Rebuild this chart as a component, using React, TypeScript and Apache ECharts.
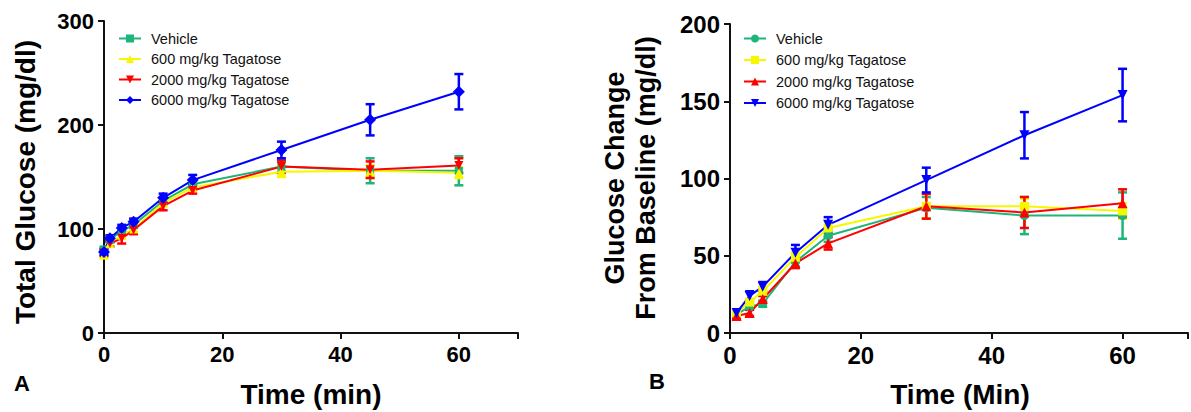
import React, { useEffect, useRef } from "react";
import * as echarts from "echarts";

// ---------- Data ----------
const seriesNames = ["Vehicle", "600 mg/kg Tagatose", "2000 mg/kg Tagatose", "6000 mg/kg Tagatose"];

// Panel A: total glucose
const timesA = [0, 1, 3, 5, 10, 15, 30, 45, 60];
const vehicleA = [80, 90, 98, 104, 127, 143, 160, 156, 156];
const vehicleErrA = [3, 3, 3, 3, 3, 4, 5, 12, 14];
const t600A = [75, 86, 94, 100, 125, 140, 155, 156, 154];
const t600ErrA = [3, 3, 3, 3, 3, 3, 5, 5, 5];
const t2000A = [77, 86, 91, 99, 122, 137, 160, 157, 161];
const t2000ErrA = [3, 3, 5, 4, 4, 3, 6, 8, 7];
const t6000A = [78, 91, 101, 107, 130, 147, 176, 205, 232];
const t6000ErrA = [3, 3, 3, 3, 4, 5, 8, 15, 17];

// Panel B: glucose change from baseline
const timesB = [1, 3, 5, 10, 15, 30, 45, 60];
const vehicleB = [12, 17, 19, 46, 63, 81, 76, 76];
const vehicleErrB = [2, 2, 2, 3, 4, 7, 12, 15];
const t600B = [13, 20, 27, 49, 68, 82, 82, 79];
const t600ErrB = [2, 2, 3, 3, 4, 8, 5, 5];
const t2000B = [11, 13, 22, 45, 58, 82, 78, 84];
const t2000ErrB = [2, 2, 2, 3, 4, 8, 10, 9];
const t6000B = [13, 24, 30, 52, 70, 99, 128, 154];
const t6000ErrB = [2, 3, 3, 5, 5, 8, 15, 17];

const xTicks = [0, 20, 40, 60];
const yTicksA = [0, 100, 200, 300];
const yTicksB = [0, 50, 100, 150, 200];

// ---------- Styles ----------
const colors = ["#1db57a", "#f7f700", "#ff0000", "#0000ff"];
const FONT = "'Liberation Sans', Arial, sans-serif";

type Panel = {
  times: number[];
  values: number[][];
  errs: number[][];
  symbols: string[];
  rotates: number[];
  symbolSizes: number[];
  yTicks: number[];
  grid: { left: number; top: number; width: number; height: number };
  legend: { left: number; top: number; itemGap: number };
  tickFont: number;
  graphics: any[];
};

function buildOption(p: Panel): any {
  const series: any[] = [];
  seriesNames.forEach((name, k) => {
    const color = colors[k];
    series.push({
      type: "custom",
      name: name + " error",
      silent: true,
      z: 2,
      data: p.times.map((t, i) => [t, p.values[k][i] - p.errs[k][i], p.values[k][i] + p.errs[k][i]]),
      encode: { x: 0, y: [1, 2] },
      renderItem: (_params: any, api: any) => {
        const x = api.value(0);
        const lo = api.coord([x, api.value(1)]);
        const hi = api.coord([x, api.value(2)]);
        const w = 4.5;
        const st = { stroke: color, lineWidth: 2.5 };
        return {
          type: "group",
          children: [
            { type: "line", shape: { x1: hi[0], y1: hi[1], x2: lo[0], y2: lo[1] }, style: st },
            { type: "line", shape: { x1: hi[0] - w, y1: hi[1], x2: hi[0] + w, y2: hi[1] }, style: st },
            { type: "line", shape: { x1: lo[0] - w, y1: lo[1], x2: lo[0] + w, y2: lo[1] }, style: st },
          ],
        };
      },
    });
    series.push({
      type: "line",
      name,
      z: 3,
      data: p.times.map((t, i) => [t, p.values[k][i]]),
      symbol: p.symbols[k],
      symbolRotate: p.rotates[k],
      symbolSize: p.symbolSizes[k],
      showSymbol: true,
      itemStyle: { color },
      lineStyle: { color, width: 2 },
    });
  });

  const yMax = p.yTicks[p.yTicks.length - 1];
  const yInt = p.yTicks[1] - p.yTicks[0];

  return {
    animation: false,
    grid: { ...p.grid, containLabel: false },
    legend: {
      data: seriesNames,
      orient: "vertical",
      left: p.legend.left,
      top: p.legend.top,
      itemGap: p.legend.itemGap,
      itemWidth: 22,
      itemHeight: 10,
      padding: 0,
      selectedMode: false,
      textStyle: { fontFamily: FONT, fontSize: 14.5, color: "#111", padding: [0, 0, 0, 5] },
    },
    xAxis: {
      type: "value",
      min: 0,
      max: 70,
      interval: xTicks[1] - xTicks[0],
      splitLine: { show: false },
      axisLine: { lineStyle: { color: "#111", width: 2 } },
      axisTick: { length: 6, lineStyle: { color: "#111", width: 2 } },
      axisLabel: {
        margin: 10,
        fontFamily: FONT,
        fontWeight: "bold",
        fontSize: p.tickFont,
        color: "#000",
        formatter: (v: number) => (xTicks.includes(v) ? String(v) : ""),
      },
    },
    yAxis: {
      type: "value",
      min: 0,
      max: yMax,
      interval: yInt,
      splitLine: { show: false },
      axisLine: { show: true, lineStyle: { color: "#111", width: 2 } },
      axisTick: { show: true, length: 6, lineStyle: { color: "#111", width: 2 } },
      axisLabel: {
        margin: 10,
        fontFamily: FONT,
        fontWeight: "bold",
        fontSize: p.tickFont,
        color: "#000",
      },
    },
    graphic: p.graphics,
    series,
  };
}

function titleText(text: string, x: number, y: number, size: number, rotation = 0): any {
  return {
    type: "text",
    x,
    y,
    rotation,
    style: {
      text,
      fontFamily: FONT,
      fontWeight: "bold",
      fontSize: size,
      fill: "#000",
      textAlign: "center",
      textVerticalAlign: "middle",
    },
  };
}

const panelA: Panel = {
  times: timesA,
  values: [vehicleA, t600A, t2000A, t6000A],
  errs: [vehicleErrA, t600ErrA, t2000ErrA, t6000ErrA],
  symbols: ["rect", "triangle", "triangle", "diamond"],
  rotates: [0, 0, 180, 0],
  symbolSizes: [8, 9, 9, 12],
  yTicks: yTicksA,
  grid: { left: 104, top: 21, width: 414, height: 312 },
  legend: { left: 118, top: 31, itemGap: 5.5 },
  tickFont: 22,
  graphics: [
    titleText("Total Glucose (mg/dl)", 25, 182, 28, Math.PI / 2),
    titleText("Time (min)", 311, 394, 28),
    titleText("A", 22, 383, 22),
  ],
};

const panelB: Panel = {
  times: timesB,
  values: [vehicleB, t600B, t2000B, t6000B],
  errs: [vehicleErrB, t600ErrB, t2000ErrB, t6000ErrB],
  symbols: ["circle", "rect", "triangle", "triangle"],
  rotates: [0, 0, 0, 180],
  symbolSizes: [9, 9, 10, 10],
  yTicks: yTicksB,
  grid: { left: 134, top: 24, width: 461, height: 309 },
  legend: { left: 147, top: 31, itemGap: 6.5 },
  tickFont: 24,
  graphics: [
    titleText("Glucose Change", 19, 178, 27, Math.PI / 2),
    titleText("From Baseline (mg/dl)", 50, 178, 27, Math.PI / 2),
    titleText("Time (Min)", 364, 394, 28),
    titleText("B", 61, 381, 22),
  ],
};

function ChartPanel({ panel, left, width }: { panel: Panel; left: number; width: number }) {
  const ref = useRef<HTMLDivElement>(null);
  useEffect(() => {
    if (!ref.current) return;
    const chart = echarts.init(ref.current, undefined, { renderer: "svg" });
    chart.setOption(buildOption(panel));
    return () => chart.dispose();
  }, [panel]);
  return (
    <div
      ref={ref}
      style={{ position: "absolute", left, top: 0, width, height: 412 }}
    />
  );
}

export default function App() {
  return (
    <div style={{ position: "absolute", left: 0, top: 0, width: 1191, height: 412, background: "#fff", overflow: "hidden" }}>
      <ChartPanel panel={panelA} left={0} width={596} />
      <ChartPanel panel={panelB} left={596} width={595} />
    </div>
  );
}
